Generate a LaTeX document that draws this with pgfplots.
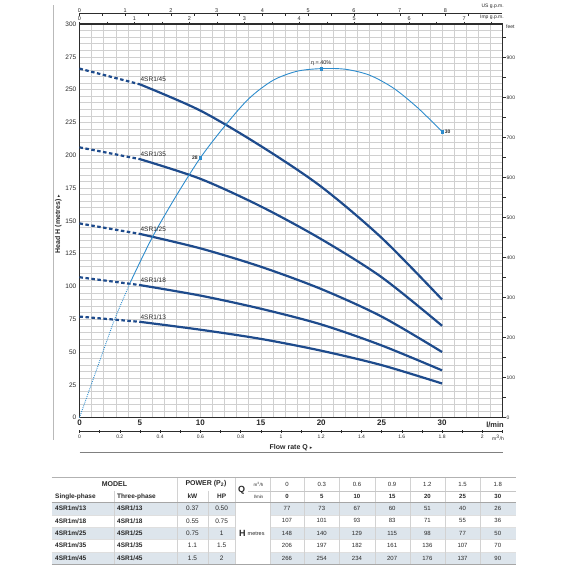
\documentclass[border=0pt]{standalone}
\usepackage{pgfplots}
\pgfplotsset{compat=1.18}
\usepackage{fontspec}
\setmainfont{Liberation Sans}
\newfontfamily\dejavu{DejaVu Sans}
\definecolor{pumpc}{RGB}{30,75,140}
\definecolor{effc}{RGB}{45,140,205}
\definecolor{gridc}{RGB}{208,208,208}
\definecolor{framec}{RGB}{45,45,45}
\definecolor{shadec}{RGB}{221,229,236}
\definecolor{txtc}{RGB}{40,40,40}
\newcommand{\fs}[1]{\fontsize{#1}{#1}\selectfont}
\pgfplotsset{
  pump/.style={pumpc, line width=2.2pt},
  pumpd/.style={pumpc, line width=2.2pt, dash pattern=on 3.5pt off 2.5pt},
  eff/.style={effc, line width=0.9pt},
}
\begin{document}
\begin{tikzpicture}
\useasboundingbox (0pt,0pt) rectangle (568pt,-568pt);
\draw[gray!55, line width=1.6pt] (53.3pt,-5pt) -- (53.3pt,-440pt);
% main axis
\begin{axis}[
  at={(79.5pt,-417.6pt)}, anchor=south west,
  scale only axis, width=423pt, height=393.6pt,
  xmin=0, xmax=35, ymin=0, ymax=300,
  clip=false,
  xtick={0,5,...,30}, ytick={0,25,...,300},
  minor xtick={0,1,...,35}, minor ytick={0,5,...,300},
  grid=both,
  major grid style={draw=gridc, line width=0.45pt},
  minor grid style={draw=gridc, line width=0.45pt},
  axis line style={draw=framec, line width=1.3pt},
  major tick length=0pt, minor tick length=0pt,
  /pgf/number format/assume math mode=true,
  xticklabel style={font=\bfseries\fs{8}, text=txtc, inner sep=1pt, yshift=-1.5pt},
  yticklabel style={font=\fs{6.5}, text=txtc, inner sep=1pt, xshift=-2pt},
]
% pump curves
\addplot[pumpd] coordinates {(0,266)(5,254)};
\addplot[pump, smooth] coordinates {(5,254)(10,234)(15,207)(20,176)(25,137)(30,90)};
\addplot[pumpd] coordinates {(0,206)(5,197)};
\addplot[pump, smooth] coordinates {(5,197)(10,182)(15,161)(20,136)(25,107)(30,70)};
\addplot[pumpd] coordinates {(0,148)(5,140)};
\addplot[pump, smooth] coordinates {(5,140)(10,129)(15,115)(20,98)(25,77)(30,50)};
\addplot[pumpd] coordinates {(0,107)(5,101)};
\addplot[pump, smooth] coordinates {(5,101)(10,93)(15,83)(20,71)(25,55)(30,36)};
\addplot[pumpd] coordinates {(0,77)(5,73)};
\addplot[pump, smooth] coordinates {(5,73)(10,67)(15,60)(20,51)(25,40)(30,26)};
% efficiency curve
\addplot[eff, dash pattern=on 0.9pt off 1.1pt] coordinates {(0,0)(2.9,75)(4.2,103)};
\addplot[eff, smooth] coordinates {(4.2,103)(6,137)(8,169)(10,198)(12,222)(14,243)(16,257)(18,264)(20,266)(22,265.5)(24,261)(26,251)(28,236)(30,218)};
\addplot[only marks, mark=square*, mark size=1.3pt, effc] coordinates {(10,198)(20,266)(30,218)};
% labels
\node[anchor=south west, font=\fs{6.5}, text=txtc, inner sep=0.5pt, yshift=1.8pt] at (axis cs:5,254) {4SR1/45};
\node[anchor=south west, font=\fs{6.5}, text=txtc, inner sep=0.5pt, yshift=1.8pt] at (axis cs:5,197) {4SR1/35};
\node[anchor=south west, font=\fs{6.5}, text=txtc, inner sep=0.5pt, yshift=1.8pt] at (axis cs:5,140) {4SR1/25};
\node[anchor=south west, font=\fs{6.5}, text=txtc, inner sep=0.5pt, yshift=1.8pt] at (axis cs:5,101) {4SR1/18};
\node[anchor=south west, font=\fs{6.5}, text=txtc, inner sep=0.5pt, yshift=1.8pt] at (axis cs:5,73) {4SR1/13};
\node[anchor=south, font=\fs{5.5}, text=txtc, inner sep=1pt, yshift=1.5pt] at (axis cs:20,266) {η = 40\%};
\node[anchor=east, font=\bfseries\fs{5}, text=txtc, inner sep=0.5pt, xshift=-2pt] at (axis cs:10,198) {28};
\node[anchor=west, font=\bfseries\fs{5}, text=txtc, inner sep=0.5pt, xshift=2pt] at (axis cs:30,218) {30};
\end{axis}
% feet axis
\begin{axis}[
  at={(79.5pt,-417.6pt)}, anchor=south west,
  scale only axis, width=423pt, height=393.6pt,
  xmin=0, xmax=35, ymin=0, ymax=984.252,
  hide x axis, axis y line*=right,
  axis line style={draw=none},
  ytick={0,100,...,900}, minor ytick={50,150,...,950},
  tick align=outside, major tick length=3pt, minor tick length=3pt,
  tick style={draw=framec, line width=0.4pt},
  /pgf/number format/assume math mode=true,
  yticklabel style={font=\fs{5}, text=txtc, inner sep=1pt},
]
\end{axis}
% Imp gpm axis
\begin{axis}[
  at={(79.5pt,-24pt)}, anchor=north west,
  scale only axis, width=423pt, height=2pt,
  xmin=0, xmax=7.6990, ymin=0, ymax=1,
  hide y axis, axis x line*=top, axis line style={draw=none},
  xtick={0,...,7}, minor xtick={0.5,1.5,...,7.5},
  tick align=outside, major tick length=2.5pt, minor tick length=2.5pt,
  tick style={draw=framec, line width=0.4pt},
  /pgf/number format/assume math mode=true,
  xticklabel style={font=\fs{5.5}, text=txtc, inner sep=1pt},
]
\end{axis}
% US gpm axis
\begin{axis}[
  at={(79.5pt,-13.3pt)}, anchor=north west,
  scale only axis, width=423pt, height=2pt,
  xmin=0, xmax=9.2460, ymin=0, ymax=1,
  hide y axis, axis x line*=top, axis line style={draw=framec, line width=0.5pt},
  xtick={0,...,8}, minor xtick={0.5,1.5,...,8.5},
  tick align=inside, major tick length=2.5pt, minor tick length=2.5pt,
  tick style={draw=framec, line width=0.4pt},
  /pgf/number format/assume math mode=true,
  xticklabel style={font=\fs{5.5}, text=txtc, inner sep=1pt},
]
\end{axis}
% m3/h axis
\begin{axis}[
  at={(79.5pt,-431.7pt)}, anchor=south west,
  scale only axis, width=423pt, height=2pt,
  xmin=0, xmax=2.1, ymin=0, ymax=1,
  hide y axis, axis x line*=bottom, axis line style={draw=framec, line width=0.5pt},
  xtick={0,0.2,0.4,0.6,0.8,1,1.2,1.4,1.6,1.8,2}, minor xtick={0.1,0.3,0.5,0.7,0.9,1.1,1.3,1.5,1.7,1.9,2.1},
  tick align=center, major tick length=2.5pt, minor tick length=2.5pt,
  tick style={draw=framec, line width=0.4pt},
  /pgf/number format/assume math mode=true,
  xticklabel style={font=\fs{5}, text=txtc, inner sep=1pt, yshift=-1pt},
]
\end{axis}
% axis texts
\node[anchor=east, font=\fs{5}, text=txtc, inner sep=0pt] at (504pt,-6.7pt) {US g.p.m.};
\node[anchor=east, font=\fs{5}, text=txtc, inner sep=0pt] at (504pt,-17.3pt) {Imp g.p.m.};
\node[anchor=west, font=\fs{5}, text=txtc, inner sep=0pt] at (506pt,-26.5pt) {feet};
\node[anchor=east, font=\bfseries\fs{7.5}, text=txtc, inner sep=0pt] at (504pt,-425pt) {l/min};
\node[anchor=east, font=\fs{5}, text=txtc, inner sep=0pt] at (504pt,-437.7pt) {m\textsuperscript{3}/h};
\node[font=\bfseries\fs{7}, text=txtc, inner sep=0pt] at (291pt,-447.7pt) {Flow rate Q {\dejavu\fs{5}▸}};
\draw[gray, line width=0.7pt] (79.5pt,-452.3pt) -- (503pt,-452.3pt);
\node[rotate=90, font=\bfseries\fs{7}, text=txtc, inner sep=0pt] at (58.3pt,-224pt) {Head H (metres) {\dejavu\fs{5}▸}};
% table
\begin{scope}[x=1pt,y=-1pt]
\foreach \r in {0,2,4} {
  \fill[shadec] (51.7,502.3+12.4*\r) rectangle (235,514.7+12.4*\r);
  \fill[shadec] (270,502.3+12.4*\r) rectangle (515.7,514.7+12.4*\r);
}
\foreach \r in {1,...,4} {
  \draw[gray!25, line width=0.4pt] (51.7,502.3+12.4*\r) -- (235,502.3+12.4*\r);
  \draw[gray!25, line width=0.4pt] (270,502.3+12.4*\r) -- (515.7,502.3+12.4*\r);
}
\foreach \xx in {176.7,235,270,304,339.5,375,410.5,445.5,480.5}
  \draw[gray!35, line width=0.4pt] (\xx,477.3) -- (\xx,564.3);
\draw[gray!35, line width=0.4pt] (114.3,490.7) -- (114.3,564.3);
\draw[gray!35, line width=0.4pt] (208.3,490.7) -- (208.3,564.3);
\draw[gray!45, line width=0.4pt] (248,490.7) -- (515.7,490.7);
\draw[gray!60, line width=0.6pt] (51.7,477.3) -- (515.7,477.3);
\draw[gray!70, line width=1pt] (51.7,502.3) -- (515.7,502.3);
\draw[gray!70, line width=1.2pt] (51.7,564.3) -- (515.7,564.3);
% header
\node[font=\bfseries\fs{7}, text=txtc] at (114.5,484) {MODEL};
\node[font=\bfseries\fs{7}, text=txtc] at (206,484) {POWER (P\textsubscript{2})};
\node[anchor=west, font=\bfseries\fs{6.5}, text=txtc, inner sep=0pt] at (55,496.5) {Single-phase};
\node[anchor=west, font=\bfseries\fs{6.5}, text=txtc, inner sep=0pt] at (117,496.5) {Three-phase};
\node[font=\bfseries\fs{6.5}, text=txtc] at (192.5,496.5) {kW};
\node[font=\bfseries\fs{6.5}, text=txtc] at (221.6,496.5) {HP};
\node[font=\bfseries\fs{9}, text=txtc, inner sep=0pt] at (241.7,490.7) {Q};
\node[font=\fs{4.5}, text=txtc, inner sep=0pt] at (258.5,484.5) {m\textsuperscript{3}/h};
\node[font=\fs{4.5}, text=txtc, inner sep=0pt] at (258.5,496.5) {l/min};
\foreach \q/\l [count=\c from 0] in {0/0,0.3/5,0.6/10,0.9/15,1.2/20,1.5/25,1.8/30} {
  \pgfmathsetmacro\cx{\c==0 ? 287 : 321.75+35.2*(\c-1)}
  \node[font=\fs{6}, text=txtc, inner sep=0pt] at (\cx,484.5) {\q};
  \node[font=\bfseries\fs{6}, text=txtc, inner sep=0pt] at (\cx,496.5) {\l};
}
\node[font=\bfseries\fs{9}, text=txtc, inner sep=0pt] at (242.3,533.3) {H};
\node[anchor=west, font=\fs{5.5}, text=txtc, inner sep=0pt] at (247.5,533.3) {metres};
\foreach \m/\kw/\hp/\va/\vb/\vc/\vd/\ve/\vf/\vg [count=\r from 0] in {
  13/0.37/0.50/77/73/67/60/51/40/26,
  18/0.55/0.75/107/101/93/83/71/55/36,
  25/0.75/1/148/140/129/115/98/77/50,
  35/1.1/1.5/206/197/182/161/136/107/70,
  45/1.5/2/266/254/234/207/176/137/90} {
  \pgfmathsetmacro\yy{508.5+12.4*\r}
  \node[anchor=west, font=\bfseries\fs{6.5}, text=txtc, inner sep=0pt] at (55,\yy) {4SR1m/\m};
  \node[anchor=west, font=\bfseries\fs{6.5}, text=txtc, inner sep=0pt] at (117,\yy) {4SR1/\m};
  \node[font=\fs{6.5}, text=txtc, inner sep=0pt] at (192.5,\yy) {\kw};
  \node[font=\fs{6.5}, text=txtc, inner sep=0pt] at (221.6,\yy) {\hp};
  \node[font=\fs{6}, text=txtc, inner sep=0pt] at (287,\yy) {\va};
  \node[font=\fs{6}, text=txtc, inner sep=0pt] at (321.75,\yy) {\vb};
  \node[font=\fs{6}, text=txtc, inner sep=0pt] at (356.95,\yy) {\vc};
  \node[font=\fs{6}, text=txtc, inner sep=0pt] at (392.15,\yy) {\vd};
  \node[font=\fs{6}, text=txtc, inner sep=0pt] at (427.35,\yy) {\ve};
  \node[font=\fs{6}, text=txtc, inner sep=0pt] at (462.55,\yy) {\vf};
  \node[font=\fs{6}, text=txtc, inner sep=0pt] at (497.75,\yy) {\vg};
}
\end{scope}
\end{tikzpicture}
\end{document}
